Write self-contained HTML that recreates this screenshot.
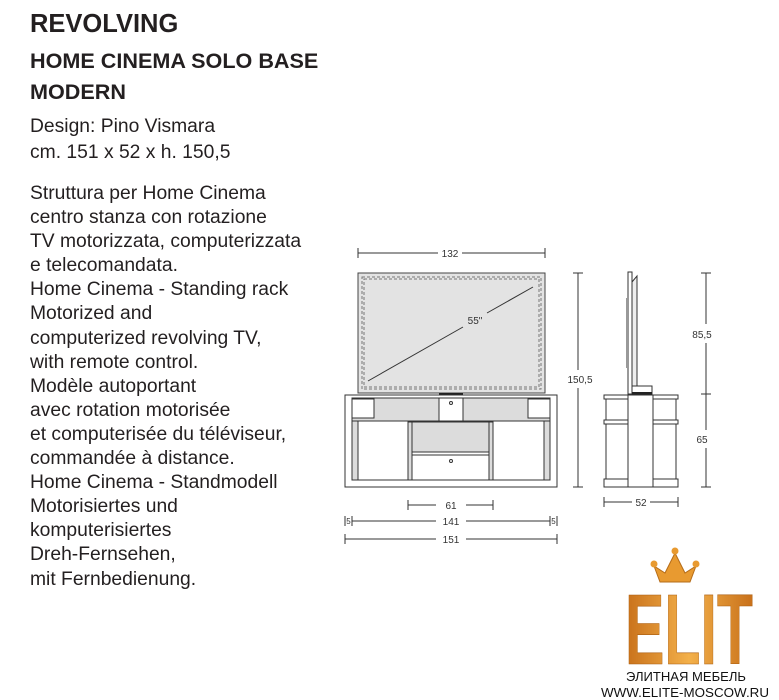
<!DOCTYPE html>
<html><head><meta charset="utf-8"><style>
body{margin:0;width:779px;height:700px;background:#fff;position:relative;overflow:hidden;font-family:"Liberation Sans",sans-serif;color:#231f20}
.t{position:absolute;left:30px;white-space:nowrap;line-height:1}
.h{font-weight:bold;font-size:21.6px}
.b{font-size:19.3px}
svg{position:absolute;left:0;top:0}
</style></head><body>
<div class="t h" style="top:12px;font-size:25.5px">REVOLVING</div>
<div class="t h" style="top:50px">HOME CINEMA SOLO BASE</div>
<div class="t h" style="top:81px">MODERN</div>
<div class="t b" style="top:117px">Design: Pino Vismara</div>
<div class="t b" style="top:143px">cm. 151 x 52 x h. 150,5</div>
<div class="t b" style="top:182px;line-height:24.1px">Struttura per Home Cinema<br>centro stanza con rotazione<br>TV motorizzata, computerizzata<br>e telecomandata.<br>Home Cinema - Standing rack<br>Motorized and<br>computerized revolving TV,<br>with remote control.<br>Modèle autoportant<br>avec rotation motorisée<br>et computerisée du téléviseur,<br>commandée à distance.<br>Home Cinema - Standmodell<br>Motorisiertes und<br>komputerisiertes<br>Dreh-Fernsehen,<br>mit Fernbedienung.</div>

<svg width="779" height="700" viewBox="0 0 779 700" font-family="Liberation Sans, sans-serif" font-size="10" fill="none" stroke="#333" stroke-width="1">
<line x1="358" y1="253" x2="438" y2="253"/><line x1="462" y1="253" x2="545" y2="253"/>
<line x1="358" y1="248" x2="358" y2="258"/><line x1="545" y1="248" x2="545" y2="258"/>
<text x="450" y="257" fill="#333" stroke="none" text-anchor="middle">132</text>
<rect x="358" y="273" width="187" height="120" fill="#e3e3e3" stroke="#444"/>
<rect x="362" y="277" width="179" height="112" stroke="#777" stroke-dasharray="3,2"/>
<rect x="364" y="279" width="175" height="108" stroke="#777" stroke-dasharray="3,2"/>
<line x1="368" y1="381" x2="463" y2="327"/><line x1="487" y1="313" x2="533" y2="287"/>
<text x="475" y="324" fill="#333" stroke="none" text-anchor="middle">55"</text>
<rect x="439" y="393" width="24" height="3" fill="#222" stroke="none"/>
<rect x="345" y="395" width="212" height="92" fill="#fff"/>
<rect x="352" y="398" width="198" height="23" fill="#dcdcdc"/>
<rect x="352" y="399" width="22" height="19" fill="#fff"/>
<rect x="528" y="399" width="22" height="19" fill="#fff"/>
<rect x="439" y="398" width="24" height="23" fill="#fff"/>
<circle cx="451" cy="403" r="1.5"/>
<line x1="352" y1="421" x2="550" y2="421"/>
<rect x="352" y="421" width="6" height="59" fill="#dcdcdc"/>
<rect x="544" y="421" width="6" height="59" fill="#dcdcdc"/>
<rect x="408" y="422" width="4" height="58" fill="#dcdcdc"/>
<rect x="489" y="422" width="4" height="58" fill="#dcdcdc"/>
<rect x="412" y="422" width="77" height="30" fill="#dcdcdc"/>
<line x1="412" y1="455" x2="489" y2="455"/>
<circle cx="451" cy="461" r="1.5"/>
<line x1="352" y1="480" x2="550" y2="480"/>
<line x1="408" y1="505" x2="436" y2="505"/><line x1="466" y1="505" x2="493" y2="505"/>
<line x1="408" y1="500" x2="408" y2="510"/><line x1="493" y1="500" x2="493" y2="510"/>
<text x="451" y="509" fill="#333" stroke="none" text-anchor="middle">61</text>
<line x1="352" y1="521" x2="436" y2="521"/><line x1="466" y1="521" x2="550" y2="521"/>
<line x1="345" y1="516" x2="345" y2="526"/><line x1="352" y1="516" x2="352" y2="526"/>
<line x1="550" y1="516" x2="550" y2="526"/><line x1="557" y1="516" x2="557" y2="526"/>
<text x="348.5" y="524" fill="#333" stroke="none" font-size="8" text-anchor="middle">5</text>
<text x="553.5" y="524" fill="#333" stroke="none" font-size="8" text-anchor="middle">5</text>
<text x="451" y="525" fill="#333" stroke="none" text-anchor="middle">141</text>
<line x1="345" y1="539" x2="436" y2="539"/><line x1="466" y1="539" x2="557" y2="539"/>
<line x1="345" y1="534" x2="345" y2="544"/><line x1="557" y1="534" x2="557" y2="544"/>
<text x="451" y="543" fill="#333" stroke="none" text-anchor="middle">151</text>
<line x1="578" y1="273" x2="578" y2="370"/><line x1="578" y1="388" x2="578" y2="487"/>
<line x1="573" y1="273" x2="583" y2="273"/><line x1="573" y1="487" x2="583" y2="487"/>
<text x="580" y="383" fill="#333" stroke="none" text-anchor="middle">150,5</text>
<rect x="628" y="272" width="4" height="122" fill="#fff"/>
<path d="M632 282 L637 276 L637 388 L632 392 Z" fill="#eee"/>
<rect x="626" y="298" width="2" height="70" fill="#999" stroke="none"/>
<rect x="632" y="386" width="20" height="8" fill="#fff"/>
<rect x="632" y="392" width="20" height="3" fill="#222" stroke="none"/>
<rect x="604" y="395" width="74" height="4" fill="#fff"/>
<rect x="606" y="399" width="70" height="21" fill="#fff"/>
<rect x="604" y="420" width="74" height="4" fill="#fff"/>
<rect x="606" y="424" width="70" height="55" fill="#fff"/>
<rect x="604" y="479" width="74" height="8" fill="#fff"/>
<rect x="628" y="395" width="25" height="92" fill="#fff"/>
<line x1="706" y1="273" x2="706" y2="324"/><line x1="706" y1="343" x2="706" y2="430"/><line x1="706" y1="448" x2="706" y2="487"/>
<line x1="701" y1="273" x2="711" y2="273"/><line x1="701" y1="394" x2="711" y2="394"/><line x1="701" y1="487" x2="711" y2="487"/>
<text x="702" y="338" fill="#333" stroke="none" text-anchor="middle">85,5</text>
<text x="702" y="443" fill="#333" stroke="none" text-anchor="middle">65</text>
<line x1="604" y1="502" x2="632" y2="502"/><line x1="650" y1="502" x2="678" y2="502"/>
<line x1="604" y1="497" x2="604" y2="507"/><line x1="678" y1="497" x2="678" y2="507"/>
<text x="641" y="506" fill="#333" stroke="none" text-anchor="middle">52</text>
<defs><linearGradient id="g" x1="0" y1="0" x2="1" y2="0"><stop offset="0" stop-color="#c8701a"/><stop offset=".5" stop-color="#f3b04a"/><stop offset="1" stop-color="#c8701a"/></linearGradient></defs>
<path d="M660 582 L654 566 L665 573 L675 553 L685 573 L696 566 L690 582 Z" fill="#e89a30" stroke="#b56c18"/>
<circle cx="654" cy="564" r="3.5" fill="#e89a30" stroke="none"/><circle cx="675" cy="551" r="3.5" fill="#e89a30" stroke="none"/><circle cx="696" cy="564" r="3.5" fill="#e89a30" stroke="none"/>
<text x="689" y="664" fill="url(#g)" stroke="#a85d10" stroke-width=".6" font-size="100" font-weight="bold" text-anchor="middle" textLength="128" lengthAdjust="spacingAndGlyphs">ELIT</text>
<text x="686" y="681" fill="#111" stroke="none" font-size="13" text-anchor="middle" textLength="120" lengthAdjust="spacingAndGlyphs">ЭЛИТНАЯ МЕБЕЛЬ</text>
<text x="685" y="697" fill="#111" stroke="none" font-size="13" text-anchor="middle" textLength="168" lengthAdjust="spacingAndGlyphs">WWW.ELITE-MOSCOW.RU</text>
</svg>
</body></html>
